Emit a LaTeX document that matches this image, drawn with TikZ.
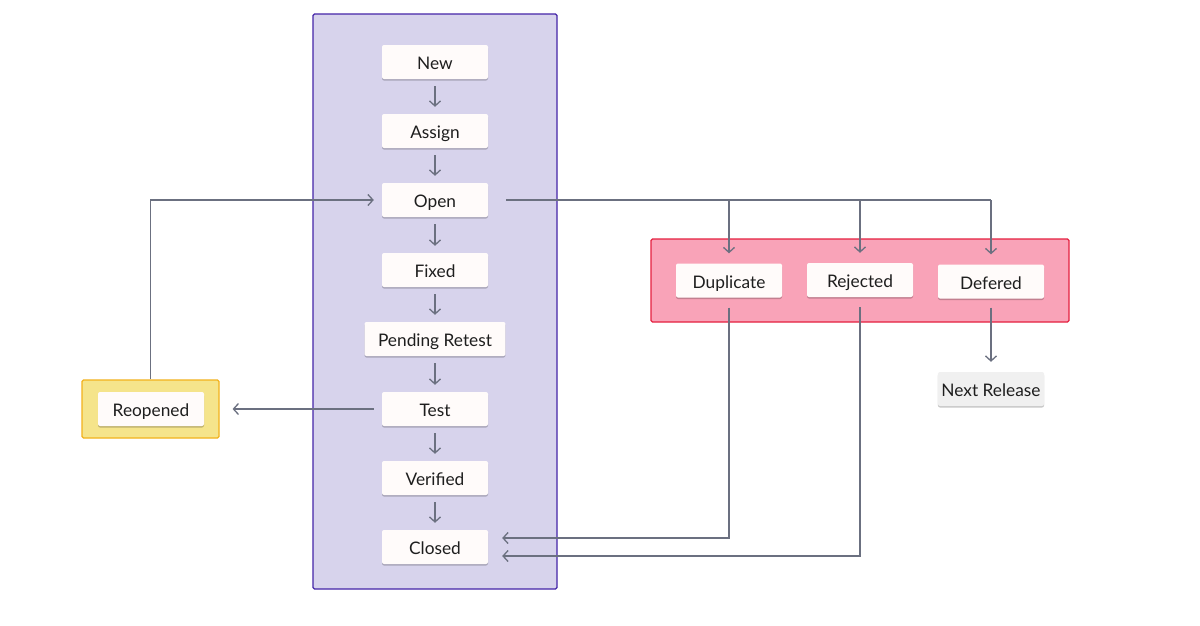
\documentclass[tikz,border=0pt]{standalone}
\usepackage{fontspec}
\setmainfont{Lato}
\usetikzlibrary{arrows.meta,shadows}
\definecolor{purplefill}{HTML}{D7D3EC}
\definecolor{purpleline}{HTML}{4424A8}
\definecolor{pinkfill}{HTML}{F9A3B8}
\definecolor{pinkline}{HTML}{E5203F}
\definecolor{yellowfill}{HTML}{F5E48B}
\definecolor{yellowline}{HTML}{F2B21C}
\definecolor{nodefill}{HTML}{FFFBFA}
\definecolor{greyfill}{HTML}{F0F0F0}
\definecolor{connline}{HTML}{6B7080}
\definecolor{txt}{HTML}{1E1E1E}
\begin{document}
\begin{tikzpicture}[x=1pt,y=-1pt,
  state/.style={fill=nodefill, rounded corners=2pt, minimum width=106pt, minimum height=34pt,
    inner xsep=13.5pt, text=txt, font=\fontsize{17.3}{20}\selectfont,
    text height=15pt, text depth=0pt,
    drop shadow={shadow xshift=0pt,shadow yshift=-1.5pt,fill=black,opacity=0.22}},
  greystate/.style={state, fill=greyfill, inner xsep=3.5pt},
  container/.style={rounded corners=1.5pt, line width=1.2pt, inner sep=0pt},
  conn/.style={draw=connline, line width=1.3pt, -{Straight Barb[length=5pt,width=11pt,line width=1.3pt]}},
  plain/.style={draw=connline, line width=1.3pt}]
\useasboundingbox (0,0) rectangle (1200,625);
\fill[white] (0,0) rectangle (1200,625);
% containers
\node[container, draw=purpleline, fill=purplefill, minimum width=244pt, minimum height=575pt] (lifecycle) at (435,301.5) {};
\node[container, draw=pinkline, fill=pinkfill, minimum width=418pt, minimum height=83pt] (pinkbox) at (860,280.5) {};
\node[container, draw=yellowline, fill=yellowfill, minimum width=137pt, minimum height=58pt] (reobox) at (150.5,409) {};
% states
\node[state] (new) at (435,62) {New};
\node[state] (assign) at (435,131) {Assign};
\node[state] (open) at (435,200) {Open};
\node[state] (fixed) at (435,270) {Fixed};
\node[state] (pending) at (435,339) {Pending Retest};
\node[state] (test) at (435,409) {Test};
\node[state] (verified) at (435,478) {Verified};
\node[state] (closed) at (435,547) {Closed};
\node[state] (reopened) at (151,409) {Reopened};
\node[state] (dup) at (729,280.5) {Duplicate};
\node[state] (rej) at (860,280) {Rejected};
\node[state] (def) at (991,281.5) {Defered};
\node[greystate] (next) at (991,389) {Next Release};
% vertical chain
\foreach \a/\b in {new/assign,assign/open,open/fixed,fixed/pending,pending/test,test/verified,verified/closed}
  \draw[conn] ([yshift=-7pt]\a.south) -- ([yshift=7pt]\b.north);
% reopen loop
\draw[conn] (reobox.north) |- ([xshift=-8pt]open.west);
\draw[conn] ([xshift=-8pt]test.west) -- ([xshift=13pt]reobox.east);
% open to outcomes
\draw[plain] ([xshift=18pt]open.east) -- (def.north |- open.east);
\draw[conn] (dup.north |- open.east) -- ([yshift=10pt]dup.north);
\draw[conn] (rej.north |- open.east) -- ([yshift=10pt]rej.north);
\draw[conn] (def.north |- open.east) -- ([yshift=10pt]def.north);
% outcomes to closed
\draw[conn] ([yshift=-10pt]dup.south) |- ([xshift=14pt,yshift=9pt]closed.east);
\draw[conn] ([yshift=-10pt]rej.south) |- ([xshift=14pt,yshift=-9pt]closed.east);
\draw[conn] ([yshift=-9pt]def.south) -- ([yshift=10pt]next.north);
\end{tikzpicture}
\end{document}
